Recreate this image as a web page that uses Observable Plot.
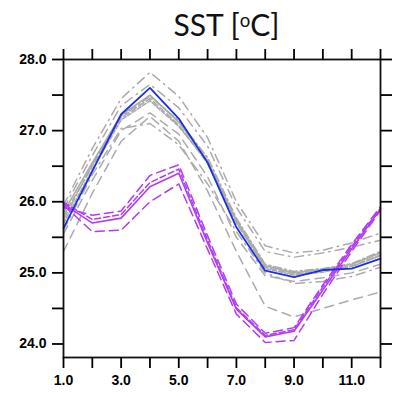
<!DOCTYPE html>
<html>
<head>
<meta charset="utf-8">
<script src="https://cdn.jsdelivr.net/npm/d3@7"></script>
<script src="https://cdn.jsdelivr.net/npm/@observablehq/plot@0.6"></script>
<style>
  html, body { margin: 0; padding: 0; background: white; }
  #wrap { position: relative; width: 395px; height: 397px; }
  #title { position: absolute; left: 0; top: 9px; width: 395px; padding-left: 58px; box-sizing: border-box;
           text-align: center; font-family: Lato, "Open Sans", sans-serif; font-size: 30px; line-height: 30px; color: #111; }
  #title sup { font-size: 0.62em; vertical-align: 0.5em; line-height: 0; }
</style>
</head>
<body>
<div id="wrap">
  <div id="title">SST [<sup>o</sup>C]</div>
  <div id="chart"></div>
</div>
<script>
const months = [1, 2, 3, 4, 5, 6, 7, 8, 9, 10, 11, 12];

// observation (blue)
const obs = [25.63, 26.43, 27.23, 27.60, 27.17, 26.55, 25.64, 25.03, 24.94, 25.04, 25.06, 25.20];

// model ensemble (gray)
const gray1 = [25.85, 26.55, 27.22, 27.50, 27.12, 26.58, 25.74, 25.10, 25.00, 25.05, 25.12, 25.28];
const gray2 = [25.80, 26.50, 27.18, 27.45, 27.08, 26.54, 25.70, 25.08, 24.98, 25.03, 25.10, 25.25];
const gray3 = [25.75, 26.52, 27.20, 27.48, 27.14, 26.62, 25.77, 25.12, 25.02, 25.06, 25.13, 25.30];
const gray4 = [25.70, 26.45, 27.15, 27.42, 27.06, 26.56, 25.72, 25.06, 24.97, 25.01, 25.09, 25.24];
const gray5 = [25.95, 26.75, 27.45, 27.82, 27.48, 26.90, 26.00, 25.38, 25.28, 25.32, 25.42, 25.56];
const gray6 = [25.90, 26.65, 27.35, 27.65, 27.32, 26.78, 25.92, 25.30, 25.22, 25.28, 25.36, 25.46];
const gray7 = [25.30, 26.12, 26.85, 27.20, 26.85, 26.15, 25.30, 24.53, 24.38, 24.50, 24.62, 24.73];
const gray8 = [25.55, 26.30, 27.00, 27.25, 26.95, 26.35, 25.50, 24.96, 24.88, 24.93, 25.00, 25.12];
const gray9 = [25.60, 26.38, 27.03, 27.10, 26.80, 26.25, 25.58, 25.00, 24.85, 24.88, 24.95, 25.08];

// experiment (magenta)
const mag0 = [25.97, 25.70, 25.77, 26.21, 26.40, 25.42, 24.49, 24.10, 24.18, 24.76, 25.34, 25.90];
const mag1 = [25.92, 25.81, 25.87, 26.37, 26.52, 25.52, 24.56, 24.15, 24.23, 24.83, 25.40, 25.93];
const mag2 = [25.95, 25.58, 25.60, 26.00, 26.25, 25.33, 24.42, 24.02, 24.05, 24.70, 25.30, 25.88];
const mag3 = [25.99, 25.75, 25.82, 26.27, 26.46, 25.46, 24.51, 24.12, 24.20, 24.80, 25.37, 25.91];

const yTicks = [24, 24.5, 25, 25.5, 26, 26.5, 27, 27.5, 28];
const xTicks = [1, 2, 3, 4, 5, 6, 7, 8, 9, 10, 11, 12];
const xLabels = [1, 3, 5, 7, 9, 11];

const GRAY = "#ababab";
const MAG = "#b23cf2";
const BLUE = "#1d2fe6";

const toRows = (vals) => months.map((m, i) => ({m, v: vals[i]}));

const series = [
  {vals: gray1, color: GRAY, dash: null, w: 1.6},
  {vals: gray2, color: GRAY, dash: "6,3", w: 1.6},
  {vals: gray3, color: GRAY, dash: "8,3,2,3", w: 1.6},
  {vals: gray4, color: GRAY, dash: "4,2", w: 1.6},
  {vals: gray5, color: GRAY, dash: "9,5,1.5,5", w: 1.5},
  {vals: gray6, color: GRAY, dash: "9,5,1.5,5", w: 1.5},
  {vals: gray7, color: GRAY, dash: "9,6", w: 1.5},
  {vals: gray8, color: GRAY, dash: "9,6", w: 1.5},
  {vals: gray9, color: GRAY, dash: "9,5,1.5,5", w: 1.5},
  {vals: mag1, color: MAG, dash: "9,5", w: 1.5},
  {vals: mag2, color: MAG, dash: "9,5", w: 1.5},
  {vals: mag3, color: MAG, dash: "6,3", w: 1.5},
  {vals: mag0, color: MAG, dash: null, w: 1.6},
  {vals: obs, color: BLUE, dash: null, w: 1.8}
];

const lineMarks = series.map(s => Plot.line(toRows(s.vals), {
  x: "m", y: "v", stroke: s.color, strokeWidth: s.w,
  strokeDasharray: s.dash || undefined
}));

const chart = Plot.plot({
  width: 395,
  height: 397,
  marginLeft: 63,
  marginRight: 15,
  marginTop: 59,
  marginBottom: 40,
  x: {domain: [1, 12]},
  y: {domain: [23.81, 28.0]},
  style: {fontFamily: "'Liberation Sans', Arial, sans-serif", fontWeight: "bold", fontSize: "14px", color: "black", background: "white", overflow: "visible"},
  marks: [
    ...lineMarks,
    Plot.frame({stroke: "#111", strokeWidth: 1.8}),
    Plot.axisY({anchor: "left", ticks: yTicks, tickSize: 11, tickPadding: 6, strokeWidth: 1.8,
      tickFormat: d => Number.isInteger(d) ? d.toFixed(1) : "", label: null}),
    Plot.axisY({anchor: "right", ticks: yTicks, tickSize: 11, strokeWidth: 1.8,
      tickFormat: () => "", label: null}),
    Plot.axisX({anchor: "bottom", ticks: xTicks, tickSize: 11, tickPadding: 7, strokeWidth: 1.8,
      tickFormat: d => xLabels.includes(d) ? d.toFixed(1) : "", label: null}),
    Plot.axisX({anchor: "top", ticks: xTicks, tickSize: 11, strokeWidth: 1.8,
      tickFormat: () => "", label: null})
  ]
});
document.getElementById("chart").appendChild(chart);
</script>
</body>
</html>
